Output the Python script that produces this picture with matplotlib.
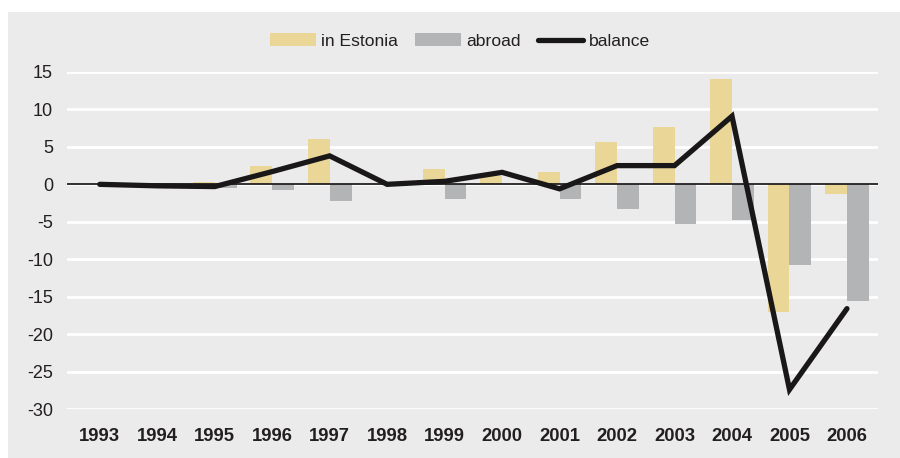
import matplotlib.pyplot as plt
import matplotlib.patches as mpatches
import numpy as np

plt.rcParams['font.family'] = ['Liberation Sans', 'DejaVu Sans']
plt.rcParams['axes.unicode_minus'] = False

years = ['1993', '1994', '1995', '1996', '1997', '1998', '1999',
         '2000', '2001', '2002', '2003', '2004', '2005', '2006']
in_estonia = [0.0, 0.0, 0.3, 2.5, 6.0, 0.0, 2.0, 1.1, 1.6, 5.7, 7.7, 14.0, -17.0, -1.3]
abroad = [0.0, 0.0, -0.5, -0.75, -2.2, 0.0, -2.0, 0.0, -1.9, -3.3, -5.3, -4.75, -10.75, -15.6]
balance = [0.0, -0.2, -0.3, 1.7, 3.8, 0.0, 0.4, 1.6, -0.6, 2.5, 2.5, 9.1, -27.4, -16.6]

bg = '#ebebeb'
c_est = '#ead697'
c_abr = '#b3b4b6'
c_bal = '#1a1718'

fig = plt.figure(figsize=(9, 4.58), dpi=100, facecolor='white')
panel = mpatches.Rectangle((8 / 900, 0), 892 / 900, 446 / 458,
                           transform=fig.transFigure, facecolor=bg,
                           edgecolor='none', zorder=-10)
fig.add_artist(panel)
ax = fig.add_axes([67 / 900, 49 / 458, 811 / 900, 337 / 458])
ax.set_zorder(1)
ax.set_facecolor(bg)

x = np.arange(len(years))
w = 0.38
h_est = ax.bar(x - w / 2, in_estonia, w, color=c_est, label='in Estonia', zorder=2)
h_abr = ax.bar(x + w / 2, abroad, w, color=c_abr, label='abroad', zorder=2)
ax.axhline(0, color='#231f20', lw=1.3, zorder=3)
h_bal, = ax.plot(x, balance, color=c_bal, lw=3.8, solid_joinstyle='miter',
                 solid_capstyle='round', label='balance', zorder=4)

ax.set_xlim(-0.57, 13.54)
ax.set_ylim(-30, 15)
ax.set_yticks(np.arange(-30, 16, 5))
ax.set_xticks(x)
ax.set_xticklabels(years, fontweight='bold', fontsize=13.3, color='#231f20')
ax.tick_params(axis='y', labelsize=13, labelcolor='#231f20', length=0, pad=10)
ax.tick_params(axis='x', length=0, pad=14)
ax.grid(axis='y', color='white', lw=2, zorder=1)
ax.set_axisbelow(True)
for s in ax.spines.values():
    s.set_visible(False)

leg = fig.legend([h_est, h_abr, h_bal], ['in Estonia', 'abroad', 'balance'],
                 loc='center', bbox_to_anchor=(460 / 900, 1 - 41 / 458), ncol=3,
                 frameon=False, fontsize=12.6, handlelength=2.6, handleheight=0.75,
                 handletextpad=0.3, columnspacing=1.0, labelcolor='#231f20')

fig.savefig('out.png', dpi=100, facecolor='white')
